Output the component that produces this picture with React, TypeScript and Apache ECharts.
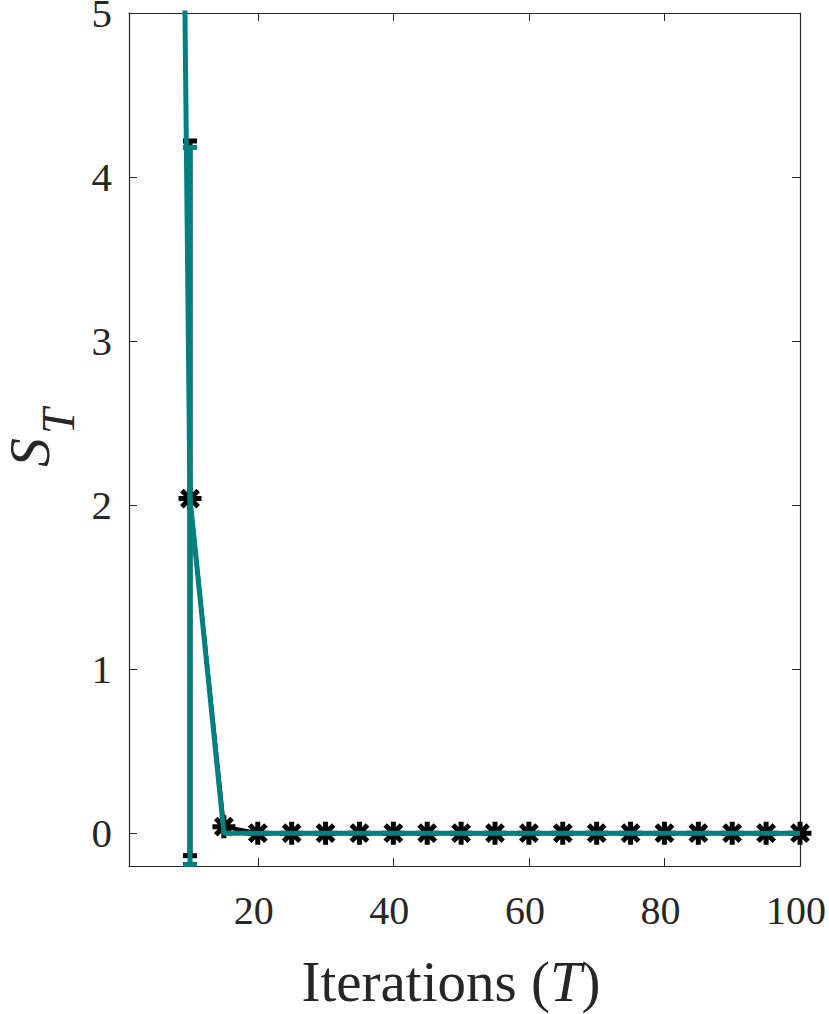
import React, { useEffect, useRef } from "react";
import * as echarts from "echarts";

// ---- data ----
const blackX = [10, 15, 20, 25, 30, 35, 40, 45, 50, 55, 60, 65, 70, 75, 80, 85, 90, 95, 100];
const blackY = [2.04, 0.04, 0, 0, 0, 0, 0, 0, 0, 0, 0, 0, 0, 0, 0, 0, 0, 0, 0];
const tealX = [5, 10, 15, 20, 25, 30, 35, 40, 45, 50, 55, 60, 65, 70, 75, 80, 85, 90, 95, 100];
const tealY = [22, 2.04, 0, 0, 0, 0, 0, 0, 0, 0, 0, 0, 0, 0, 0, 0, 0, 0, 0, 0];
// error bars: [x, low, high]
const blackErr = [[10, -0.137, 4.22]];
const tealErr = [[10, -0.19, 4.18]];
const xTicks = [20, 40, 60, 80, 100];
const yTicks = [0, 1, 2, 3, 4, 5];

const AXIS_COLOR = "#262626";
const TEAL = "#008080";
const FONT = "Liberation Serif";
const STAR = "path://M0,-10L0,10M-10,0L10,0M-7.07,-7.07L7.07,7.07M-7.07,7.07L7.07,-7.07";

function errRender(color: string, width: number, cap: number) {
  return (params: any, api: any) => {
    const x = api.value(0);
    const lo = api.coord([x, api.value(1)]);
    const hi = api.coord([x, api.value(2)]);
    const st = { stroke: color, lineWidth: width };
    return {
      type: "group",
      children: [
        { type: "line", shape: { x1: lo[0], y1: lo[1], x2: hi[0], y2: hi[1] }, style: st },
        { type: "line", shape: { x1: lo[0] - cap / 2, y1: lo[1], x2: lo[0] + cap / 2, y2: lo[1] }, style: st },
        { type: "line", shape: { x1: hi[0] - cap / 2, y1: hi[1], x2: hi[0] + cap / 2, y2: hi[1] }, style: st },
      ],
    };
  };
}

export default function App() {
  const ref = useRef<HTMLDivElement>(null);
  useEffect(() => {
    if (!ref.current) return;
    const chart = echarts.init(ref.current, undefined, { renderer: "svg" });
    const axisCommon = {
      type: "value" as const,
      splitLine: { show: false },
      axisLine: { show: true, onZero: false, lineStyle: { color: AXIS_COLOR, width: 1.2 } },
    };
    const xBase = {
      ...axisCommon,
      min: 1,
      max: 100,
      axisTick: { show: true, inside: true, length: 8, customValues: xTicks, lineStyle: { color: AXIS_COLOR } },
    };
    const yBase = {
      ...axisCommon,
      min: -0.2,
      max: 5,
      axisTick: { show: true, inside: true, length: 8, customValues: yTicks, lineStyle: { color: AXIS_COLOR } },
    };
    chart.setOption({
      animation: false,
      backgroundColor: "#ffffff",
      grid: {
        left: 129,
        top: 13,
        width: 671,
        height: 853,
        containLabel: false,
        outerBoundsMode: "none",
      },
      xAxis: [
        {
          ...xBase,
          position: "bottom",
          axisLabel: {
            customValues: xTicks,
            fontSize: 40,
            fontFamily: FONT,
            color: AXIS_COLOR,
            margin: 24,
            padding: [0, 8, 0, 0],
          },
        },
        { ...xBase, position: "top", axisLabel: { show: false } },
      ],
      yAxis: [
        {
          ...yBase,
          position: "left",
          axisLabel: { customValues: yTicks, fontSize: 41, fontFamily: FONT, color: AXIS_COLOR, margin: 17 },
        },
        { ...yBase, position: "right", axisLabel: { show: false } },
      ],
      series: [
        {
          type: "custom",
          xAxisIndex: 0,
          yAxisIndex: 0,
          renderItem: errRender("#000000", 5, 14),
          data: blackErr,
          z: 2,
        },
        {
          type: "line",
          xAxisIndex: 0,
          yAxisIndex: 0,
          data: blackX.map((x, i) => [x, blackY[i]]),
          symbol: STAR,
          symbolSize: 23,
          lineStyle: { color: "#000000", width: 4 },
          itemStyle: { color: "#000000", borderColor: "#000000", borderWidth: 5 },
          z: 3,
        },
        {
          type: "custom",
          xAxisIndex: 0,
          yAxisIndex: 0,
          renderItem: errRender(TEAL, 5, 14),
          data: tealErr,
          z: 4,
        },
        {
          type: "line",
          xAxisIndex: 0,
          yAxisIndex: 0,
          data: tealX.map((x, i) => [x, tealY[i]]),
          symbol: "none",
          lineStyle: { color: TEAL, width: 5 },
          z: 5,
        },
      ],
      graphic: [
        {
          type: "text",
          x: 451,
          y: 981,
          style: {
            text: "{a|Iterations (}{b|T}{a|)}",
            textAlign: "center",
            textVerticalAlign: "middle",
            fill: AXIS_COLOR,
            font: `57px ${FONT}`,
            rich: {
              a: { fontSize: 57, fontFamily: FONT, fill: AXIS_COLOR },
              b: { fontSize: 57, fontFamily: FONT, fontStyle: "italic", fill: AXIS_COLOR },
            },
          },
        },
        {
          type: "text",
          x: 29,
          y: 467,
          rotation: Math.PI / 2,
          style: {
            text: "S",
            font: `italic 58px ${FONT}`,
            textAlign: "left",
            textVerticalAlign: "middle",
            fill: AXIS_COLOR,
          },
        },
        {
          type: "text",
          x: 58,
          y: 434,
          rotation: Math.PI / 2,
          style: {
            text: "T",
            font: `italic 46px ${FONT}`,
            textAlign: "left",
            textVerticalAlign: "middle",
            fill: AXIS_COLOR,
          },
        },
      ],
    });
    return () => chart.dispose();
  }, []);
  return (
    <div
      ref={ref}
      style={{ position: "absolute", left: 0, top: 0, width: 829, height: 1014 }}
    />
  );
}
